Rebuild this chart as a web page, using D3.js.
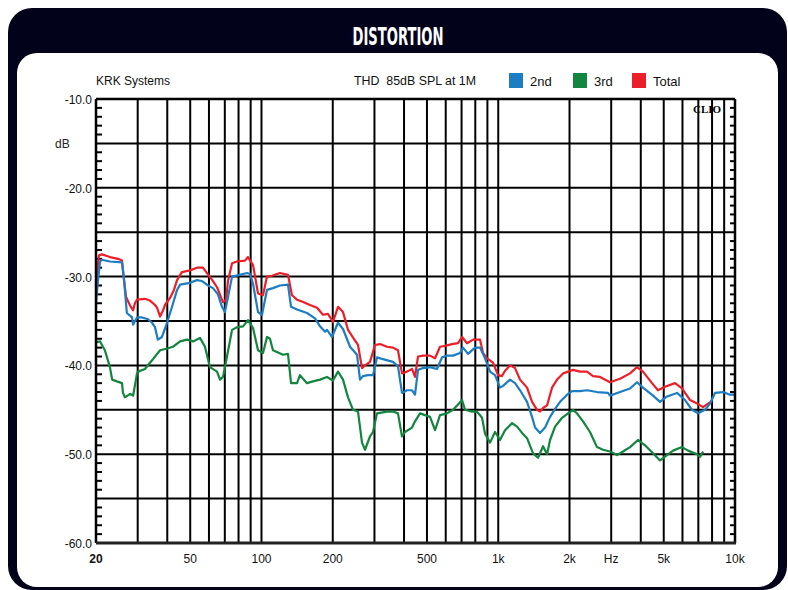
<!DOCTYPE html>
<html><head><meta charset="utf-8">
<script src="https://cdn.jsdelivr.net/npm/d3@7"></script>
<style>body{margin:0;background:#fff;} svg{display:block;}</style>
</head><body>
<svg id="c" width="788" height="590"></svg>
<script>
// ---- data (Hz, dB) ----
const freqTotal = [20,20.4,20.6,21.2,22.9,24.8,25.75,26.3,26.8,27.9,28.7,29.2,29.8,32.2,33.8,35.5,36.2,37.3,38.4,39.1,41.1,42.7,44.0,46.1,49.9,53.4,56.6,58.9,62.4,64.9,68.8,70.8,72.2,75.1,78.8,85.2,87.7,92.1,96.7,101.5,105.5,110.8,119.7,129.4,134.5,141.3,148.3,160.3,171.6,181.9,190.9,200.5,210.5,221.0,232.0,248.4,255.7,265.8,273.7,287.3,301.6,316.6,338.9,359.3,377.2,392.2,411.7,432.3,445.1,458.3,481.1,515.1,540.7,567.7,596.1,638.1,676.4,703.3,738.4,782.6,837.7,862.6,896.8,950.6,998,1037.6,1068.4,1121.5,1177.5,1236.3,1323.3,1389.4,1458.7,1501.8,1546.2,1607.7,1655.3,1687.8,1772,1878.7,1972.2,2069.7,2214.7,2370.9,2513.4,2690.2,2965.1,3268.6,3603.3,3855.1,4086.8,4461.6,4729.3,5063.3,5580.6,5974.1,6458.6,6914.1,7329,7693.1,7996];
const dbTotal = [-31.0,-28.5,-27.6,-27.5,-27.8,-28.0,-28.2,-30.5,-32.3,-33.3,-33.8,-33.0,-32.6,-32.5,-32.7,-33.2,-33.5,-34.5,-33.8,-33.2,-32.4,-31.5,-30.4,-29.5,-29.3,-29.0,-29.0,-29.6,-30.5,-31.2,-32.9,-32.6,-30.5,-28.5,-28.3,-28.2,-27.8,-28.7,-31.9,-32.1,-30.0,-29.9,-29.6,-29.8,-32.1,-32.6,-32.8,-33.2,-33.5,-34.3,-34.2,-35.1,-33.4,-34.0,-36.0,-37.2,-37.7,-40.3,-40.0,-39.6,-37.7,-37.6,-37.9,-38.0,-38.3,-40.9,-40.7,-40.4,-41.3,-39.0,-38.9,-38.9,-39.2,-37.9,-37.8,-37.6,-37.5,-36.8,-37.5,-37.1,-37.1,-38.6,-39.2,-39.7,-41.1,-41.2,-40.6,-40.0,-40.3,-41.6,-42.5,-44.1,-45.0,-45.2,-44.8,-44.5,-43.3,-42.5,-41.6,-40.9,-40.7,-40.5,-40.7,-40.7,-41.2,-41.3,-41.9,-41.5,-40.9,-40.2,-40.7,-42.0,-42.8,-42.4,-42.0,-42.6,-43.9,-44.3,-44.7,-44.3,-44.0];

const freq2nd = [20,20.4,20.8,21.2,22.9,25.75,26.3,27.0,28.4,28.7,29.8,31.3,33.2,34.5,35.5,36.5,38.0,39.9,41.9,44.0,45.3,49.9,53.4,56.1,59.4,62.4,65.5,68.1,70.1,72.2,75.1,81.1,86.9,89.4,92.1,96.7,100.5,105.5,111.8,119.7,129.4,133.3,141.3,155.7,168.3,176.7,185.5,189.1,198.5,210.5,221.0,236.6,253.2,260.7,268.4,281.8,295.8,307.5,326.0,359.3,377.2,392.2,411.7,432.3,445.1,458.3,481.1,515.1,551.4,578.9,607.8,644.3,689.7,710.1,745.5,797.9,837.7,879.5,923.2,969.4,1017.8,1047.8,1121.5,1177.5,1236.3,1323.3,1389.4,1430.5,1501.8,1576.7,1655.3,1737.9,1824.6,1953.2,2049.7,2214.7,2370.9,2613.2,2907.7,2965.1,3268.6,3603.3,3855.1,4086.8,4505,4822.8,5162.6,5690.8,6151.5,6585.3,6981.3,7472.6,7845,8233,8897,9523,10000];
const db2nd = [-32.9,-30.4,-28.3,-28.1,-28.3,-28.4,-30.5,-34.1,-34.6,-35.4,-34.6,-34.6,-34.8,-35.2,-35.7,-37.1,-36.8,-35.2,-33.4,-31.5,-30.9,-30.7,-30.4,-30.5,-31.0,-31.3,-32.0,-33.4,-34.0,-32.3,-30.0,-29.8,-29.6,-29.7,-30.8,-34.0,-34.3,-31.5,-31.3,-31.0,-30.9,-33.4,-33.7,-34.1,-34.7,-35.6,-36.2,-36.0,-36.8,-35.2,-35.9,-37.9,-38.8,-41.6,-41.2,-41.1,-41.1,-39.1,-39.3,-39.6,-40.1,-43.1,-42.8,-42.8,-43.3,-40.5,-40.3,-40.2,-40.4,-39.1,-38.9,-38.9,-38.6,-38.0,-38.7,-38.0,-38.0,-39.2,-40.7,-41.1,-42.5,-42.3,-41.6,-42.0,-42.8,-44.1,-45.8,-47.0,-47.6,-47.0,-45.8,-44.9,-44.1,-43.3,-42.9,-42.9,-42.8,-43.0,-43.1,-43.4,-43.0,-42.6,-41.9,-42.5,-43.4,-44.1,-43.5,-43.1,-43.9,-45.0,-45.4,-45.0,-44.3,-43.1,-43.0,-43.3,-43.3];

const freq3rd = [20,20.8,21.8,22.9,23.4,24.5,25.75,26.0,26.5,27.9,28.7,29.8,30.1,32.2,33.8,34.8,37.3,39.9,42.3,45.3,48.5,51.4,55.0,57.7,60.6,64.9,66.8,68.8,71.5,75.1,78.8,83.6,87.7,92.1,96.7,101.5,105.5,108.6,111.8,123.3,129.4,133.3,141.3,145.4,155.7,165.0,176.7,189.1,200.5,210.5,221.0,232.0,243.6,255.7,265.8,273.7,287.3,295.8,307.5,338.9,359.3,377.2,392.2,403.8,432.3,445.1,467.3,490.6,515.1,540.7,567.7,607.8,644.3,676.4,703.3,724.1,775.1,813.7,854.3,879.5,923.2,969.4,1017.8,1068.4,1143.7,1200.7,1260.6,1323.3,1403,1473,1546.2,1607.7,1655.3,1737.9,1860.4,1972.2,2069.7,2150.9,2280.4,2441,2613.2,2770,2965.1,3175,3365.6,3603.3,3893,4167,4505,4822.8,5162.6,5473.6,5974.1,6333.6,6914.1,7117.9,7329];
const db3rd = [-37.4,-37.3,-38.3,-40.2,-41.6,-41.8,-42.0,-43.1,-43.6,-43.2,-43.4,-40.9,-40.7,-40.4,-39.7,-39.3,-38.3,-38.1,-37.9,-37.3,-37.1,-37.3,-36.9,-37.9,-40.2,-40.7,-41.6,-41.3,-39.0,-36.0,-35.7,-35.6,-34.9,-35.8,-38.3,-38.6,-36.8,-37.0,-38.3,-38.8,-38.7,-42.0,-42.0,-41.1,-42.0,-41.8,-41.6,-41.3,-41.7,-40.7,-41.6,-43.6,-45.0,-45.2,-48.7,-49.5,-48.0,-47.5,-45.4,-45.2,-45.2,-45.4,-48.0,-47.5,-47.0,-46.3,-45.4,-45.6,-45.8,-47.3,-45.6,-45.4,-45.0,-44.4,-43.9,-45.0,-45.2,-45.2,-45.9,-47.7,-48.7,-47.5,-48.4,-47.3,-46.5,-46.9,-47.6,-48.2,-49.9,-50.4,-49.1,-50.0,-48.4,-46.9,-45.9,-45.4,-45.0,-45.4,-46.3,-47.5,-49.2,-49.5,-49.7,-50.1,-49.7,-49.2,-48.4,-49.0,-49.9,-50.7,-50.1,-49.6,-49.2,-49.6,-50.0,-50.3,-49.7];

const yLabelValues = [-10,-20,-30,-40,-50,-60];
const xLabelFreqs = [20,50,100,200,500,1000,2000,3000,5000,10000];
const xLabelTexts = ["20","50","100","200","500","1k","2k","Hz","5k","10k"];
const legendNames = ["2nd","3rd","Total"];
const legendColors = ["#1c7dc3","#12853f","#ec1f29"];

// ---- drawing ----
const svg = d3.select("#c");
const navy = "#02031a";
svg.append("rect").attr("x",8).attr("y",8).attr("width",779).attr("height",582).attr("rx",24).attr("fill",navy);
svg.append("rect").attr("x",17).attr("y",53).attr("width",761).attr("height",534).attr("rx",20).attr("fill","#fff");
svg.append("text").attr("x",398).attr("y",45).attr("text-anchor","middle")
  .attr("font-family","'Liberation Sans Narrow','DejaVu Sans Condensed',sans-serif").attr("font-weight","bold")
  .attr("font-size",25).attr("fill","#fff").attr("textLength",91).attr("lengthAdjust","spacingAndGlyphs").text("DISTORTION");

const L=96,R=735,T=99,B=543;
const x = d3.scaleLog().domain([20,10000]).range([L,R]);
const y = d3.scaleLinear().domain([-60,-10]).range([B,T]);
const font = "'Liberation Sans',Arial,sans-serif";

const g = svg.append("g");
// vertical grid
const vgrid=[];
[10,100,1000].forEach(d=>{for(let m=1;m<10;m++){const f=m*d; if(f>20&&f<10000) vgrid.push(f);}});
g.selectAll(".vg").data(vgrid).enter().append("line")
  .attr("x1",d=>x(d)).attr("x2",d=>x(d)).attr("y1",T).attr("y2",B)
  .attr("stroke","#000").attr("stroke-width",2);
// horizontal grid
const hgrid = d3.range(-55,-10,5);
g.selectAll(".hg").data(hgrid).enter().append("line")
  .attr("x1",L).attr("x2",R).attr("y1",d=>y(d)).attr("y2",d=>y(d))
  .attr("stroke","#000").attr("stroke-width",2);
// minor ticks
const minor = d3.range(-59,-10,1).filter(v=>v%5!==0);
g.selectAll(".mt").data(minor).enter().append("line")
  .attr("x1",L).attr("x2",L+6).attr("y1",d=>y(d)).attr("y2",d=>y(d)).attr("stroke","#000").attr("stroke-width",2);
g.selectAll(".mt2").data(minor).enter().append("line")
  .attr("x1",R-5).attr("x2",R).attr("y1",d=>y(d)).attr("y2",d=>y(d)).attr("stroke","#000").attr("stroke-width",2);

// CLIO
svg.append("text").attr("x",707).attr("y",113).attr("text-anchor","middle")
  .attr("font-family","'Liberation Serif','DejaVu Serif',serif").attr("font-weight","bold").attr("font-size",11).text("CLIO");

// curves
const line = d3.line().x(d=>x(d[0])).y(d=>y(d[1]));
function series(fr,db,color){
  svg.append("path").datum(fr.map((f,i)=>[f,db[i]])).attr("d",line)
    .attr("fill","none").attr("stroke",color).attr("stroke-width",2.2).attr("stroke-linejoin","round");
}
series(freqTotal,dbTotal,legendColors[2]);
series(freq2nd,db2nd,legendColors[0]);
series(freq3rd,db3rd,legendColors[1]);

// frame
svg.append("line").attr("x1",L).attr("x2",R).attr("y1",T).attr("y2",T).attr("stroke","#000").attr("stroke-width",2.5);
svg.append("line").attr("x1",L).attr("x2",L).attr("y1",T).attr("y2",B).attr("stroke","#000").attr("stroke-width",2.5);
svg.append("line").attr("x1",R).attr("x2",R).attr("y1",T).attr("y2",B).attr("stroke","#000").attr("stroke-width",2.5);
svg.append("line").attr("x1",L).attr("x2",R+1).attr("y1",B).attr("y2",B).attr("stroke","#222").attr("stroke-width",3);

// y labels
svg.selectAll(".yl").data(yLabelValues).enter().append("text")
  .attr("x",92).attr("y",d=>y(d)+5).attr("text-anchor","end")
  .attr("font-family",font).attr("font-size",12).attr("fill","#111").text(d=>d.toFixed(1));
svg.append("text").attr("x",55).attr("y",148).attr("font-family",font).attr("font-size",12).attr("fill","#222").text("dB");
// x labels
svg.selectAll(".xl").data(xLabelFreqs).enter().append("text")
  .attr("x",d=>x(d)).attr("y",563).attr("text-anchor","middle")
  .attr("font-family",font).attr("font-size",12).attr("fill","#111")
  .attr("font-weight",(d,i)=>i===0?"bold":"normal").text((d,i)=>xLabelTexts[i]);

// header texts
svg.append("text").attr("x",96).attr("y",85).attr("font-family",font).attr("font-size",12).attr("fill","#111").text("KRK Systems");
svg.append("text").attr("x",354).attr("y",85).attr("font-family",font).attr("font-size",12).attr("fill","#111")
  .attr("textLength",122).attr("lengthAdjust","spacingAndGlyphs").style("white-space","pre").text("THD  85dB SPL at 1M");
const legX=[509,573,632];
legendNames.forEach((n,i)=>{
  svg.append("rect").attr("x",legX[i]).attr("y",73).attr("width",14).attr("height",15).attr("fill",legendColors[i]);
  svg.append("text").attr("x",legX[i]+21).attr("y",86).attr("font-family",font).attr("font-size",13).attr("fill","#111").text(n);
});
</script>
</body></html>
